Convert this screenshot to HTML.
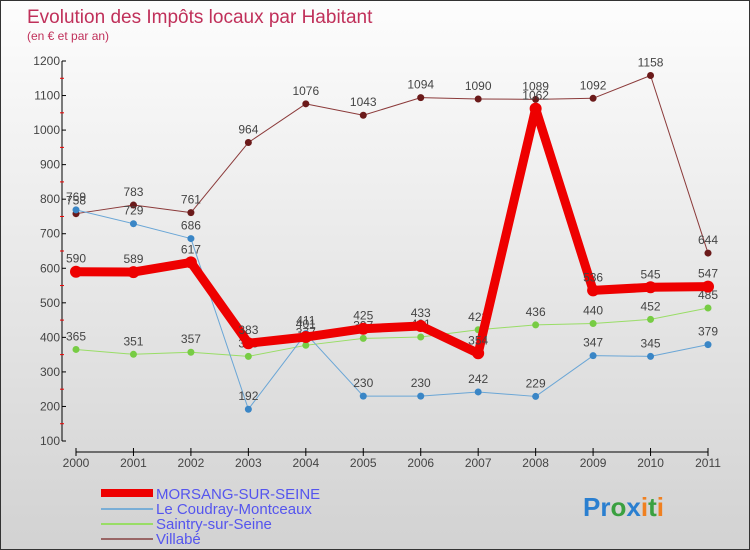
<!DOCTYPE html>
<html><head><meta charset="utf-8"><style>
body{margin:0}
#c{width:750px;height:550px;position:relative;box-sizing:border-box;border:1px solid #333;background:linear-gradient(#fdfdfd,#d2d2d2);font-family:"Liberation Sans",sans-serif;overflow:hidden}
</style></head><body>
<div id="c">
<svg id="s" width="750" height="550" style="position:absolute;left:0;top:0">
<text x="26" y="22" font-size="19" fill="#c0305a">Evolution des Impôts locaux par Habitant</text>
<text x="26" y="39" font-size="12" fill="#c0305a">(en € et par an)</text>
<g id="axes"></g><g id="series"></g>
<g font-size="15" fill="#5555ee">
<rect x="100" y="488" width="52" height="8" fill="#e00"/>
<text x="155" y="498">MORSANG-SUR-SEINE</text>
<rect x="100" y="507" width="52" height="2" fill="#7aaed6"/>
<text x="155" y="513">Le Coudray-Montceaux</text>
<rect x="100" y="522" width="52" height="2" fill="#99dd66"/>
<text x="155" y="528">Saintry-sur-Seine</text>
<rect x="100" y="537" width="52" height="2" fill="#996666"/>
<text x="155" y="543">Villabé</text>
</g>
<text x="582" y="515" font-size="26" font-weight="bold"><tspan fill="#2a7fd0">Pr</tspan><tspan fill="#3aa040">o</tspan><tspan fill="#2a7fd0">x</tspan><tspan fill="#f08020">i</tspan><tspan fill="#3aa040">t</tspan><tspan fill="#f08020">i</tspan></text>
</svg>
</div>
<script>
const years=[2000,2001,2002,2003,2004,2005,2006,2007,2008,2009,2010,2011];
const yTicks=[100,200,300,400,500,600,700,800,900,1000,1100,1200];
const morsang=[590,589,617,383,401,425,433,354,1062,536,545,547];
const coudray=[769,729,686,192,411,230,230,242,229,347,345,379];
const saintry=[365,351,357,345,377,397,401,422,436,440,452,485];
const villabe=[758,783,761,964,1076,1043,1094,1090,1089,1092,1158,644];
const NS="http://www.w3.org/2000/svg";
const X=i=>75+i*(707-75)/(years.length-1);
const Y=v=>440-(v-100)*380/1100;
function mk(t,a,p){const e=document.createElementNS(NS,t);for(const k in a)e.setAttribute(k,a[k]);p.appendChild(e);return e;}
const ax=document.getElementById('axes'),sr=document.getElementById('series');
let e=mk('line',{x1:61,y1:Y(1200),x2:61,y2:Y(100),stroke:'#000'},ax);


yTicks.forEach((v,i)=>{
 mk('line',{x1:61,y1:Y(v),x2:65,y2:Y(v),stroke:'#000'},ax);
 if(i<yTicks.length-1)mk('line',{x1:59,y1:Y(v+50),x2:63,y2:Y(v+50),stroke:'#e00'},ax);
 const t=mk('text',{x:59,y:Y(v)+4,'font-size':12,fill:'#444','text-anchor':'end'},ax);t.textContent=v;
 
 
});
e=mk('line',{x1:75,y1:451,x2:707,y2:451,stroke:'#000'},ax);


years.forEach((y,i)=>{
 mk('line',{x1:X(i),y1:447,x2:X(i),y2:455,stroke:'#000'},ax);
 const t=mk('text',{x:X(i),y:466,'font-size':12,fill:'#444','text-anchor':'middle'},ax);t.textContent=y;
 
 
});
function series(d,name,col,w,r,dot){
 const g=mk('g',{},sr);
 
 
 const l=mk('polyline',{points:d.map((v,i)=>X(i)+','+Y(v)).join(' '),fill:'none',stroke:col,'stroke-width':w,'stroke-linejoin':'round'},g);
 
 
 d.forEach((v,i)=>{
  const c=mk('circle',{cx:X(i),cy:Y(v),r:r,fill:dot},g);
  
  
  const t=mk('text',{x:X(i),y:Y(v)-9,'font-size':12,fill:'#444','text-anchor':'middle'},g);t.textContent=v;
  
  
 });
}
series(villabe,'villabe','#8b3a3a',1,3.5,'#6b1a1a');
series(saintry,'saintry','#99dd66',1,3.5,'#77cc44');
series(coudray,'coudray','#6aa6d6',1,3.5,'#3a86c6');
series(morsang,'morsang','#ee0000',9,6,'#ee0000');
</script>
</body></html>
